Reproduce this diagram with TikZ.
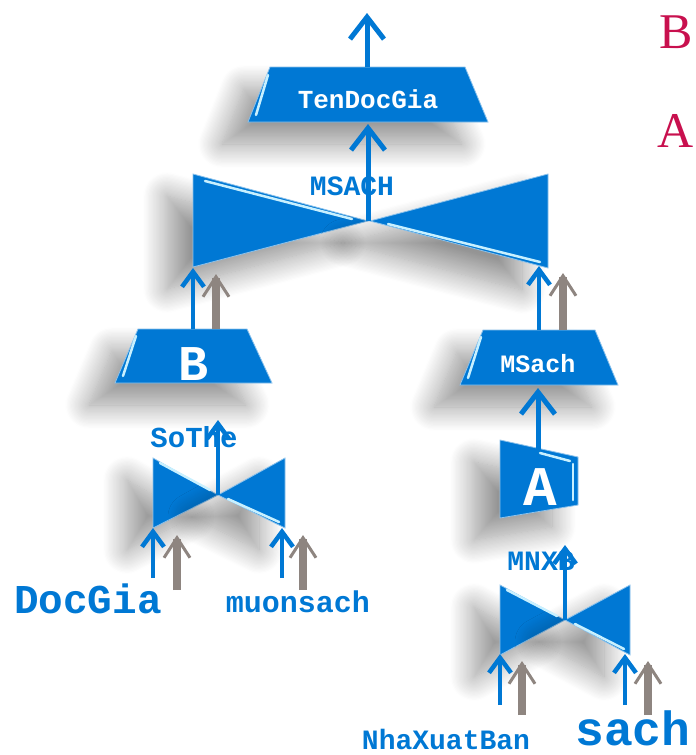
\documentclass[tikz,border=0pt]{standalone}
\usepackage{fontspec}
\setmainfont{Liberation Serif}
\newfontfamily\cour{Liberation Mono}
\usetikzlibrary{arrows.meta,shadows.blur}
\definecolor{bl}{RGB}{0,120,212}
\definecolor{gr}{RGB}{142,133,128}
\definecolor{cr}{RGB}{200,16,78}
\definecolor{hl}{RGB}{200,240,255}
\tikzset{
  shp/.style={fill=bl, draw=bl!45!white, line width=0.8pt,
    blur shadow={shadow xshift=-26pt, shadow yshift=-22pt, shadow blur radius=24pt, shadow blur steps=20, shadow opacity=42}},
  hilite/.style={draw=hl, line width=2.5pt, line cap=round},
  bigarr/.style={draw=bl, line width=5pt, -{Straight Barb[length=22pt,width=34pt]}},
  smallarr/.style={draw=bl, line width=4.5pt, -{Straight Barb[length=15pt,width=22pt]}},
  grarr/.style={draw=gr, line width=8pt, -{Straight Barb[length=20pt,width=26pt,line width=3pt]}},
  lbl/.style={font=\cour\bfseries, text=bl, anchor=base, inner sep=0pt},
  wlbl/.style={font=\cour\bfseries, text=white, anchor=base, inner sep=0pt},
  side/.style={text=cr, anchor=base, inner sep=0pt, font=\fontsize{50}{50}\selectfont}
}
\begin{document}
\begin{tikzpicture}[x=1pt,y=-1pt]
\useasboundingbox (0,0) rectangle (696,755);
% ---------- shapes ----------
% TenDocGia
\path[shp] (270,67) -- (465,67) -- (488,122) -- (248,122) -- cycle;
\draw[hilite] (268,75) -- (256,115);
% big bowtie MSACH
\path[shp] (193,174) -- (193,267) -- (368,221) -- cycle;
\path[shp] (548,174) -- (548,268) -- (370,221) -- cycle;
\draw[hilite] (205,181) -- (352,219);
\draw[hilite] (388,224) -- (540,262);
% B
\path[shp] (138,329) -- (247,329) -- (272,383) -- (115,383) -- cycle;
\draw[hilite] (136,336) -- (123,376);
% SoThe bowtie
\path[shp] (153,458) -- (153,528) -- (218,495) -- cycle;
\path[shp] (285,458) -- (285,528) -- (218,495) -- cycle;
\draw[hilite] (160,463) -- (210,490);
\draw[hilite] (228,499) -- (279,522);
% MSach
\path[shp] (483,330) -- (595,330) -- (618,385) -- (460,385) -- cycle;
\draw[hilite] (481,337) -- (468,378);
% A
\path[shp] (500,440) -- (578,457) -- (578,505) -- (500,518) -- cycle;
\draw[hilite] (540,453) -- (570,461);
\draw[hilite] (573,464) -- (573,500);
% MNXB bowtie
\path[shp] (500,585) -- (500,655) -- (565,620) -- cycle;
\path[shp] (630,585) -- (630,655) -- (565,620) -- cycle;
\draw[hilite] (507,590) -- (557,616);
\draw[hilite] (575,624) -- (624,649);

% ---------- labels ----------
\node[wlbl, font=\cour\bfseries\fontsize{26}{26}\selectfont] (tdg) at (368,108) {TenDocGia};
\node[lbl, font=\cour\bfseries\fontsize{28}{28}\selectfont] (msach) at (352,195) {MSACH};
\node[wlbl, font=\cour\bfseries\fontsize{50}{50}\selectfont] (b) at (194,380) {B};
\node[lbl, font=\cour\bfseries\fontsize{29}{29}\selectfont] (sothe) at (194,447) {SoThe};
\node[lbl, font=\cour\bfseries\fontsize{41}{41}\selectfont] (docgia) at (88,613) {DocGia};
\node[lbl, font=\cour\bfseries\fontsize{30}{30}\selectfont] (muonsach) at (298,612) {muonsach};
\node[wlbl, font=\cour\bfseries\fontsize{25}{25}\selectfont] (msach2) at (538,372) {MSach};
\node[wlbl, font=\cour\bfseries\fontsize{56}{56}\selectfont] (a) at (540,505) {A};
\node[lbl, font=\cour\bfseries\fontsize{28}{28}\selectfont] (mnxb) at (541,570) {MNXB};
\node[lbl, font=\cour\bfseries\fontsize{28}{28}\selectfont] (nxb) at (446,749) {NhaXuatBan};
\node[lbl, font=\cour\bfseries\fontsize{48}{48}\selectfont] (sach) at (633,745) {sach};
\node[side] (sb) at (676,48) {B};
\node[side] (sa) at (676,147) {A};

% ---------- coordinates ----------
\coordinate (out) at (367,13);
\coordinate (tdgtop) at (367,67);
\coordinate (tdgbot) at (368,124);
\coordinate (bigc) at (368,221);
\coordinate (bigl) at (193,268);
\coordinate (bigr) at (539,266);
\coordinate (btop) at (193,329);
\coordinate (bgtop) at (216,329);
\coordinate (bgtip) at (216,274);
\coordinate (msctop) at (539,330);
\coordinate (mscgtop) at (563,330);
\coordinate (mscgtip) at (563,273);
\coordinate (stc) at (218,495);
\coordinate (stup) at (218,420);
\coordinate (stl) at (153,528);
\coordinate (str) at (282,528);
\coordinate (stlin) at (153,578);
\coordinate (strin) at (282,578);
\coordinate (stlg) at (177,590);
\coordinate (stlgt) at (177,535);
\coordinate (strg) at (303,590);
\coordinate (strgt) at (303,535);
\coordinate (atop) at (538,450);
\coordinate (mscbot) at (538,388);
\coordinate (mnc) at (565,620);
\coordinate (mnup) at (565,545);
\coordinate (mnl) at (500,654);
\coordinate (mnr) at (625,654);
\coordinate (mnlin) at (500,705);
\coordinate (mnrin) at (625,705);
\coordinate (mnlg) at (522,715);
\coordinate (mnlgt) at (522,661);
\coordinate (mnrg) at (648,715);
\coordinate (mnrgt) at (648,661);

% ---------- connectors ----------
\draw[bigarr] (tdgtop) -- (out);
\draw[bigarr] (bigc) -- (tdgbot);
\draw[smallarr] (btop) -- (bigl);
\draw[grarr] (bgtop) -- (bgtip);
\draw[smallarr] (msctop) -- (bigr);
\draw[grarr] (mscgtop) -- (mscgtip);
\draw[smallarr] (stc) -- (stup);
\draw[smallarr] (stlin) -- (stl);
\draw[grarr] (stlg) -- (stlgt);
\draw[smallarr] (strin) -- (str);
\draw[grarr] (strg) -- (strgt);
\draw[bigarr] (atop) -- (mscbot);
\draw[smallarr] (mnc) -- (mnup);
\draw[smallarr] (mnlin) -- (mnl);
\draw[grarr] (mnlg) -- (mnlgt);
\draw[smallarr] (mnrin) -- (mnr);
\draw[grarr] (mnrg) -- (mnrgt);
\end{tikzpicture}
\end{document}
